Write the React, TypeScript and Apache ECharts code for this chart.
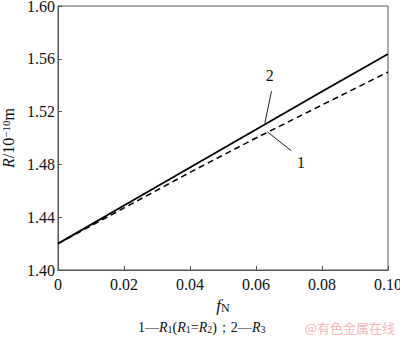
import React, { useEffect, useRef } from "react";
import * as echarts from "echarts";

const xTicks = [0, 0.02, 0.04, 0.06, 0.08, 0.1];
const fN = [0, 0.02, 0.04, 0.06, 0.08, 0.1];
const R1 = [1.42, 1.447, 1.474, 1.5, 1.525, 1.55];
const R3 = [1.42, 1.4488, 1.4776, 1.5064, 1.5352, 1.5636];
const labels = ["2", "1"];

const FONT = "'Liberation Serif', 'Times New Roman', serif";

export default function App() {
  const ref = useRef<HTMLDivElement>(null);
  useEffect(() => {
    const chart = echarts.init(ref.current!, null, { renderer: "svg" });
    const tickRich = { t: { fontFamily: FONT, fontSize: 16, color: "#111" } };
    const option: any = {
      animation: false,
      backgroundColor: "#fff",
      textStyle: { fontFamily: FONT },
      grid: {
        left: 58,
        right: 12,
        top: 6,
        bottom: 67,
        show: true,
        borderColor: "#555",
        borderWidth: 1,
        containLabel: false,
        outerBoundsMode: "none",
      },
      xAxis: {
        type: "value",
        min: 0,
        max: 0.1,
        interval: 0.02,
        axisLine: { lineStyle: { color: "#555", width: 1 } },
        axisTick: { inside: true, length: 4, lineStyle: { color: "#555" } },
        splitLine: { show: false },
        axisLabel: {
          fontFamily: FONT,
          fontSize: 16,
          color: "#111",
          margin: 6,
          rich: tickRich,
          formatter: (v: number) => `{t|${v === 0 ? "0" : v.toFixed(2)}}`,
        },
        name: "{i|f}{s|N}",
        nameLocation: "middle",
        nameGap: 25,
        nameTextStyle: {
          rich: {
            i: { fontFamily: FONT, fontStyle: "italic", fontSize: 17, color: "#111", lineHeight: 18 },
            s: { fontFamily: FONT, fontSize: 12, color: "#111", lineHeight: 12, verticalAlign: "bottom" },
          },
        },
      },
      yAxis: {
        type: "value",
        min: 1.4,
        max: 1.6,
        interval: 0.04,
        axisLine: { show: true, lineStyle: { color: "#555", width: 1 } },
        axisTick: { show: true, inside: true, length: 4, lineStyle: { color: "#555" } },
        splitLine: { show: false },
        axisLabel: {
          fontFamily: FONT,
          fontSize: 16,
          color: "#111",
          margin: 3,
          rich: tickRich,
          formatter: (v: number) => `{t|${v.toFixed(2)}}`,
        },
        name: "{i|R}{n|/10}{s|−10}{n|m}",
        nameLocation: "middle",
        nameGap: 42,
        nameRotate: 90,
        nameTextStyle: {
          rich: {
            i: { fontFamily: FONT, fontStyle: "italic", fontSize: 16, color: "#111", lineHeight: 16 },
            n: { fontFamily: FONT, fontSize: 16, color: "#111", lineHeight: 16 },
            s: { fontFamily: FONT, fontSize: 11, color: "#111", lineHeight: 11, verticalAlign: "top" },
          },
        },
      },
      series: [
        {
          type: "line",
          data: fN.map((x, i) => [x, R3[i]]),
          symbol: "none",
          lineStyle: { color: "#000", width: 1.8 },
        },
        {
          type: "line",
          data: fN.map((x, i) => [x, R1[i]]),
          symbol: "none",
          lineStyle: { color: "#000", width: 1.5, type: [6, 4] },
        },
      ],
    };
    chart.setOption(option);

    const p = (x: number, y: number) => chart.convertToPixel({ gridIndex: 0 }, [x, y]) as number[];
    const a1 = p(0.0647, 1.5355);
    const a2 = p(0.0627, 1.5115);
    const b1 = p(0.0635, 1.5045);
    const b2 = p(0.0706, 1.4905);
    const l2 = p(0.0642, 1.541);
    const l1 = p(0.0715, 1.4875);

    const legendY = 327;
    chart.setOption({
      graphic: [
        { type: "line", shape: { x1: a1[0], y1: a1[1], x2: a2[0], y2: a2[1] }, style: { stroke: "#222", lineWidth: 1 } },
        { type: "line", shape: { x1: b1[0], y1: b1[1], x2: b2[0], y2: b2[1] }, style: { stroke: "#222", lineWidth: 1 } },
        {
          type: "text",
          x: l2[0],
          y: l2[1],
          style: { text: labels[0], fontFamily: FONT, fontSize: 16, fill: "#111", textAlign: "center", textVerticalAlign: "bottom" },
        },
        {
          type: "text",
          x: l1[0] + 3,
          y: l1[1],
          style: { text: labels[1], fontFamily: FONT, fontSize: 16, fill: "#111", textAlign: "left", textVerticalAlign: "top" },
        },
        {
          type: "text",
          x: 138,
          y: legendY,
          style: {
            text: "{n|1—}{i|R}{b|1}{n|(}{i|R}{b|1}{n|=}{i|R}{b|2}{n|)；2—}{i|R}{b|3}",
            textAlign: "left",
            textVerticalAlign: "middle",
            rich: {
              n: { fontFamily: FONT, fontSize: 14, fill: "#111", lineHeight: 15 },
              i: { fontFamily: FONT, fontStyle: "italic", fontSize: 14, fill: "#111", lineHeight: 15 },
              b: { fontFamily: FONT, fontSize: 10, fill: "#111", lineHeight: 10, verticalAlign: "bottom" },
            },
          },
        },
        {
          type: "text",
          x: 395,
          y: 327,
          style: {
            text: "@有色金属在线",
            fontFamily: "'Noto Sans CJK SC'",
            fontSize: 13,
            fill: "#f2b8b8",
            textAlign: "right",
            textVerticalAlign: "middle",
          },
        },
      ],
    });

    return () => chart.dispose();
  }, []);
  return (
    <div
      ref={ref}
      style={{ position: "absolute", left: 0, top: 0, width: 400, height: 337 }}
    />
  );
}
